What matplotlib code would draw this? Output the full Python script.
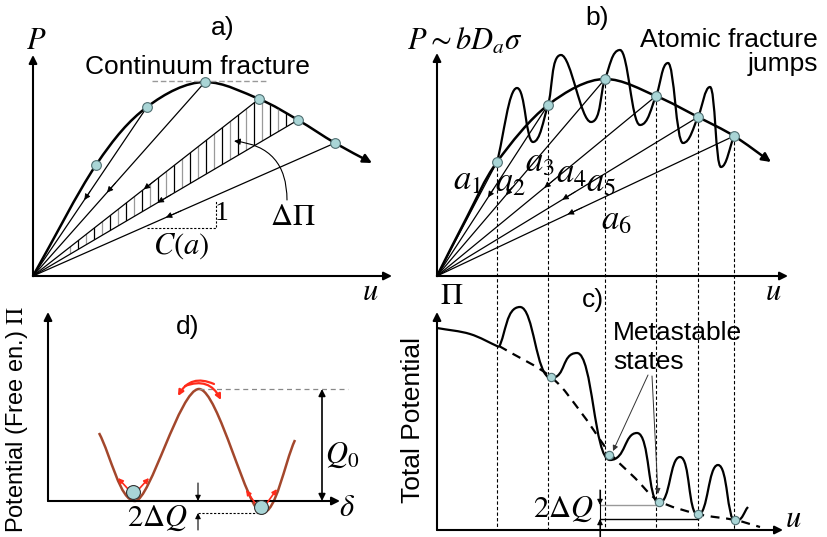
import numpy as np
import matplotlib
matplotlib.use("Agg")
import matplotlib.pyplot as plt
from matplotlib.path import Path
from matplotlib.patches import PathPatch, FancyArrowPatch, Polygon

plt.rcParams['font.family'] = ['Liberation Sans', 'DejaVu Sans']
plt.rcParams['mathtext.fontset'] = 'stix'

# ---- panel a: continuum fracture (pixel coords of the sketch) ----
a_origin = (33, 276)
a_curve_x = [33, 96, 147, 205, 259, 298, 335, 372]
a_curve_y = [276, 165, 107, 82, 99, 120, 143, 163]
a_mark_x = [96, 147, 205, 259, 298, 335]
a_mark_y = [165, 107, 82, 99, 120, 143]
a_line_idx = [1, 2, 3, 4, 5]
a_arrow_t = [0.45, 0.43, 0.49, 0.47, 0.44]

# ---- panel b: atomic fracture jumps ----
b_origin = (437, 276)
b_curve_x = [437, 467, 497, 548, 605, 656, 698, 734, 771]
b_curve_y = [276, 217, 162, 105, 79, 96, 117, 136, 162]
b_mark_x = [497, 548, 605, 656, 698, 734]
b_mark_y = [162, 105, 79, 96, 117, 136]
b_wave_x = [497, 517, 533, 548, 561, 591, 605, 620, 640, 656, 668, 683, 698, 710, 721, 734]
b_wave_y = [162, 88, 142, 105, 55, 122, 79, 50, 125, 96, 63, 143, 117, 87, 167, 136]
b_arrow_t = [None, 0.46, 0.41, 0.49, 0.48, 0.44]
b_labels = ['$a_1$', '$a_2$', '$a_3$', '$a_4$', '$a_5$', '$a_6$']
b_label_x = [467, 510, 540, 571, 601, 616]
b_label_y = [180, 182, 162, 173, 182, 220]

# ---- panel c: total potential ----
c_head_x = [437, 470, 499]
c_head_y = [328, 334, 347]
c_wave_x = [499, 520, 551, 577, 610, 637, 659, 680, 698, 718, 735, 748]
c_wave_y = [347, 307, 378, 353, 460, 433, 503, 457, 515, 465, 521, 507]
c_dash_x = [499, 551, 583, 609, 635, 659, 698, 735, 760]
c_dash_y = [346, 377, 415, 452, 478, 501, 514, 520, 527]
c_mark_x = [551, 609, 659, 698, 735]
c_mark_y = [377, 455, 502, 514, 520]

# ---- panel d: double well ----
d_curve_x = [99, 135, 199, 262, 295]
d_curve_y = [433, 501, 389, 513, 440]
d_ball_x = [133, 261]
d_ball_y = [492, 507]

mark_fc = '#a9d5d6'
mark_ec = '#506f72'
brown = '#a3472c'
red = '#ff2a1a'


def smooth(xs, ys, ext=0.5):
    p = np.column_stack([xs, ys]).astype(float)
    n = len(p)
    m = np.zeros_like(p)
    for i in range(n):
        if i == 0:
            m[i] = p[1] - p[0]
        elif i == n - 1:
            m[i] = p[-1] - p[-2]
        else:
            m[i] = (p[i + 1] - p[i - 1]) / 2
            if (p[i, 1] - p[i - 1, 1]) * (p[i + 1, 1] - p[i, 1]) < 0:
                m[i] = (ext * (p[i + 1, 0] - p[i - 1, 0]), 0)
    verts = [p[0]]
    codes = [Path.MOVETO]
    for i in range(n - 1):
        verts += [p[i] + m[i] / 3, p[i + 1] - m[i + 1] / 3, p[i + 1]]
        codes += [Path.CURVE4] * 3
    return Path(verts, codes)


def arrow(ax, start, end, lw=1.5, ms=12, style='-|>', color='k', **kw):
    ax.annotate('', xy=end, xytext=start,
                arrowprops=dict(arrowstyle=style, lw=lw, color=color, mutation_scale=ms,
                                shrinkA=0, shrinkB=0, **kw))


def mid_arrow(ax, o, p, t):
    x0, y0 = o
    q1 = (x0 + t * (p[0] - x0), y0 + t * (p[1] - y0))
    q2 = (x0 + (t + 0.05) * (p[0] - x0), y0 + (t + 0.05) * (p[1] - y0))
    arrow(ax, q2, q1, lw=0.6, ms=9)


fig = plt.figure(figsize=(8.27, 5.37), dpi=100)
ax = fig.add_axes([0, 0, 1, 1])
ax.set_xlim(0, 827)
ax.set_ylim(537, 0)
ax.axis('off')

sans = 19
mathsz = 22

# ===== panel a =====
arrow(ax, a_origin, (33, 55))
arrow(ax, a_origin, (392, 276))
ax.text(36, 41, '$P$', fontsize=mathsz, ha='center', va='center')
ax.text(223, 28, 'a)', fontsize=sans, ha='center', va='center')
ax.text(197, 67, 'Continuum fracture', fontsize=sans, ha='center', va='center')
ax.plot([152, 267], [81, 81], color='#999999', lw=1.0, ls=(0, (4, 2)))

# hatched region between two unloading lines
tri = Polygon([a_origin, (a_mark_x[3], a_mark_y[3]), (a_mark_x[4], a_mark_y[4])],
              closed=True, fill=False, ec='none')
ax.add_patch(tri)
hatch_x = np.arange(70, 300, 8)
hatch_c = ['k' if i % 2 else '#9a9a9a' for i in range(len(hatch_x))]
hl = ax.vlines(hatch_x, 90, 280, colors=hatch_c, lw=0.9)
hl.set_clip_path(tri)

for i, t in zip(a_line_idx, a_arrow_t):
    p = (a_mark_x[i], a_mark_y[i])
    ax.plot([a_origin[0], p[0]], [a_origin[1], p[1]], color='k', lw=0.9)
    mid_arrow(ax, a_origin, p, t)

ax.add_patch(FancyArrowPatch(path=smooth(a_curve_x, a_curve_y), arrowstyle='-|>',
                             mutation_scale=13, lw=1.8, color='k'))
ax.plot(a_mark_x, a_mark_y, 'o', ms=7, mfc=mark_fc, mec=mark_ec, mew=0.8, zorder=5)

ax.plot([147, 216, 216], [228, 228, 200], color='k', lw=0.8, ls=(0, (2, 1.5)))
ax.text(222, 214, '1', fontsize=20, ha='center', va='center', family='Liberation Serif')
ax.text(181, 246, '$C(a)$', fontsize=mathsz, ha='center', va='center')
ax.text(293, 217, r'$\Delta\Pi$', fontsize=mathsz, ha='center', va='center')
arrow(ax, (287, 200), (234, 141), lw=0.8, ms=9, connectionstyle='arc3,rad=0.45')
ax.text(370, 292, '$u$', fontsize=mathsz, ha='center', va='center')

# ===== panel b =====
arrow(ax, b_origin, (437, 53))
arrow(ax, b_origin, (788, 276))
ax.text(407, 42, r'$P\sim bD_a\sigma$', fontsize=mathsz, ha='left', va='center')
ax.text(597, 18, 'b)', fontsize=sans, ha='center', va='center')
ax.text(818, 40, 'Atomic fracture', fontsize=sans, ha='right', va='center')
ax.text(818, 64, 'jumps', fontsize=sans, ha='right', va='center')

for mx, my, t in zip(b_mark_x, b_mark_y, b_arrow_t):
    ax.plot([b_origin[0], mx], [b_origin[1], my], color='k', lw=0.9)
    if t is not None:
        mid_arrow(ax, b_origin, (mx, my), t)

ax.vlines(b_mark_x, b_mark_y, 530, colors='k', lw=0.8, linestyles=(0, (3, 2)))
ax.add_patch(FancyArrowPatch(path=smooth(b_curve_x, b_curve_y), arrowstyle='-|>',
                             mutation_scale=13, lw=1.8, color='k'))
ax.add_patch(PathPatch(smooth(b_wave_x, b_wave_y, ext=0.7), fill=False, lw=1.6, ec='k'))
ax.plot(b_mark_x, b_mark_y, 'o', ms=7, mfc=mark_fc, mec=mark_ec, mew=0.8, zorder=5)
for lab, lx, ly in zip(b_labels, b_label_x, b_label_y):
    ax.text(lx, ly, lab, fontsize=25, ha='center', va='center')
ax.text(773, 292, '$u$', fontsize=mathsz, ha='center', va='center')

# ===== panel c =====
arrow(ax, (437, 530), (437, 312))
arrow(ax, (437, 530), (783, 530))
ax.text(452, 296, r'$\Pi$', fontsize=mathsz, ha='center', va='center')
ax.text(593, 300, 'c)', fontsize=sans, ha='center', va='center')
ax.text(413, 420, 'Total Potential', fontsize=sans, ha='center', va='center', rotation=90)
ax.text(793, 519, '$u$', fontsize=mathsz, ha='center', va='center')

ax.add_patch(PathPatch(smooth(c_head_x, c_head_y), fill=False, lw=1.6, ec='k'))
ax.add_patch(PathPatch(smooth(c_wave_x, c_wave_y, ext=0.8), fill=False, lw=1.6, ec='k'))
ax.add_patch(PathPatch(smooth(c_dash_x, c_dash_y), fill=False, lw=1.6, ec='k',
                       ls=(0, (4, 3))))
ax.plot(c_mark_x, c_mark_y, 'o', ms=6, mfc=mark_fc, mec=mark_ec, mew=0.8, zorder=5)

ax.text(613, 333, 'Metastable', fontsize=sans, ha='left', va='center')
ax.text(613, 362, 'states', fontsize=sans, ha='left', va='center')
arrow(ax, (648, 375), (613, 451), lw=0.7, ms=8, color='#333333')
arrow(ax, (652, 376), (658, 494), lw=0.7, ms=8, color='#333333')

ax.plot([600, 660], [505, 505], color='#999999', lw=1.0)
ax.plot([600, 698], [519, 519], color='k', lw=1.0)
ax.plot([600, 600], [490, 537], color='k', lw=0.8)
arrow(ax, (600, 490), (600, 505), lw=0.8, ms=8)
arrow(ax, (600, 537), (600, 519), lw=0.8, ms=8)
ax.text(563, 509, r'$2\Delta Q$', fontsize=mathsz, ha='center', va='center')

# ===== panel d =====
arrow(ax, (48, 501), (48, 312))
arrow(ax, (48, 501), (340, 501))
ax.text(17, 419, r'Potential (Free en.) $\Pi$', fontsize=17, ha='center', va='center',
        rotation=90)
ax.text(188, 327, 'd)', fontsize=sans, ha='center', va='center')
ax.text(347, 508, r'$\delta$', fontsize=mathsz, ha='center', va='center')

ax.plot([199, 348], [389, 389], color='#888888', lw=0.9, ls=(0, (4, 3)))
arrow(ax, (322, 389), (322, 501), lw=1.2, ms=10, style='<|-|>')
ax.text(342, 455, '$Q_0$', fontsize=mathsz, ha='center', va='center')

ax.add_patch(PathPatch(smooth(d_curve_x, d_curve_y, ext=0.45), fill=False, lw=1.8, ec=brown))
ax.plot(d_ball_x, d_ball_y, 'o', ms=10, mfc=mark_fc, mec='#333333', mew=0.8, zorder=5)

arrow(ax, (128, 489), (118, 478), lw=1.2, ms=7, color=red)
arrow(ax, (139, 489), (149, 478), lw=1.2, ms=7, color=red)
arrow(ax, (255, 503), (246, 490), lw=1.2, ms=7, color=red)
arrow(ax, (267, 503), (277, 489), lw=1.2, ms=7, color=red)
arrow(ax, (214, 384), (178, 396), lw=1.6, ms=8, color=red, connectionstyle='arc3,rad=0.45')
arrow(ax, (185, 386), (221, 400), lw=1.6, ms=8, color=red, connectionstyle='arc3,rad=-0.45')

ax.plot([198, 262], [513, 513], color='k', lw=0.8, ls=(0, (2, 1.5)))
arrow(ax, (198, 483), (198, 501), lw=0.8, ms=8)
arrow(ax, (198, 530), (198, 513), lw=0.8, ms=8)
ax.text(157, 518, r'$2\Delta Q$', fontsize=mathsz, ha='center', va='center')

fig.savefig('out.png', dpi=100)
